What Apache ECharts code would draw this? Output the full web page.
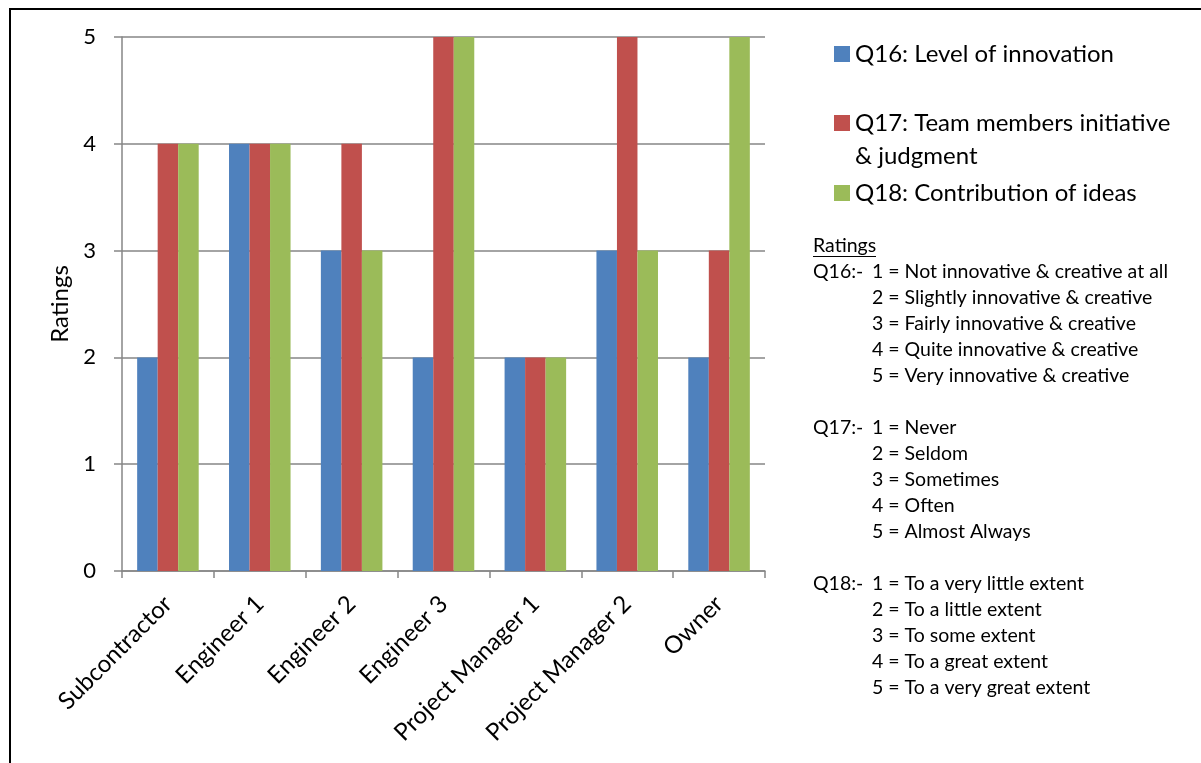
<!DOCTYPE html>
<html>
<head>
<meta charset="utf-8">
<script src="https://cdn.jsdelivr.net/npm/echarts@6/dist/echarts.min.js"></script>
<style>
html,body{margin:0;padding:0;background:#fff;overflow:hidden;}
#frame{position:absolute;left:9px;top:8px;width:1200px;height:770px;border-left:2px solid #000;border-top:2px solid #000;box-sizing:border-box;}
#chart{position:absolute;left:0;top:0;width:1201px;height:763px;}
</style>
</head>
<body>
<div id="chart"></div>
<div id="frame"></div>
<script>
const categories = ['Subcontractor','Engineer 1','Engineer 2','Engineer 3','Project Manager 1','Project Manager 2','Owner'];
const seriesNames = ['Q16: Level of innovation','Q17: Team members initiative & judgment','Q18: Contribution of ideas'];
const q16 = [2,4,3,2,2,3,2];
const q17 = [4,4,4,5,2,5,3];
const q18 = [4,4,3,5,2,3,5];
const yTicks = [0,1,2,3,4,5];
const ratingsLines = [
  ['Q16:-','1 = Not innovative & creative at all'],
  ['','2 = Slightly innovative & creative'],
  ['','3 = Fairly innovative & creative'],
  ['','4 = Quite innovative & creative'],
  ['','5 = Very innovative & creative'],
  null,
  ['Q17:-','1 = Never'],
  ['','2 = Seldom'],
  ['','3 = Sometimes'],
  ['','4 = Often'],
  ['','5 = Almost Always'],
  null,
  ['Q18:-','1 = To a very little extent'],
  ['','2 = To a little extent'],
  ['','3 = To some extent'],
  ['','4 = To a great extent'],
  ['','5 = To a very great extent']
];
const colors = ['#4F81BD','#C0504D','#9BBB59'];
const FONT = 'Lato';
const NOTE_FS = 19.5;
const LEG_FS = 24;

const chart = echarts.init(document.getElementById('chart'));

const graphics = [];
graphics.push({type:'text', x: 813, y: 246, style:{text:'Ratings', font:NOTE_FS+'px '+FONT, fill:'#000', verticalAlign:'middle'}});
graphics.push({type:'line', shape:{x1:813,y1:256.5,x2:876,y2:256.5}, style:{stroke:'#000', lineWidth:1}});
ratingsLines.forEach((l,i)=>{
  if(!l) return;
  const y = 272 + i*26;
  if(l[0]) graphics.push({type:'text', x:813, y:y, style:{text:l[0], font:NOTE_FS+'px '+FONT, fill:'#000', verticalAlign:'middle'}});
  graphics.push({type:'text', x:872, y:y, style:{text:l[1], font:NOTE_FS+'px '+FONT, fill:'#000', verticalAlign:'middle'}});
});
graphics.push({type:'text', x:855, y:156, style:{text:'& judgment', font:LEG_FS+'px '+FONT, fill:'#000', verticalAlign:'middle'}});

const legendBase = {orient:'vertical', padding:0, itemWidth:16, itemHeight:16, itemGap:0, icon:'rect', textStyle:{fontFamily:FONT, fontSize:LEG_FS, color:'#000'}, selectedMode:false};

chart.setOption({
  animation:false,
  color: colors,
  grid:{left:122, right:436, top:37, bottom:192, containLabel:false},
  legend:[
    Object.assign({}, legendBase, {data:[seriesNames[0]], left:834, top:42}),
    Object.assign({}, legendBase, {data:[seriesNames[1]], left:834, top:111, formatter: ()=> 'Q17: Team members initiative'}),
    Object.assign({}, legendBase, {data:[seriesNames[2]], left:834, top:181})
  ],
  xAxis:{
    type:'category', data:categories,
    axisLine:{lineStyle:{color:'#868686', width:1.5}},
    axisTick:{show:true, length:7, alignWithLabel:false, lineStyle:{color:'#868686', width:1.5}},
    axisLabel:{rotate:45, fontFamily:FONT, fontSize:24, color:'#000', margin:29, interval:0}
  },
  yAxis:{
    type:'value', min:yTicks[0], max:yTicks[yTicks.length-1], interval:1,
    name:'Ratings', nameLocation:'middle', nameGap:46, nameRotate:90,
    nameTextStyle:{fontFamily:FONT, fontSize:24, color:'#000'},
    axisLine:{show:true, lineStyle:{color:'#868686', width:1.5}},
    axisTick:{show:true, length:8, lineStyle:{color:'#868686', width:1.5}},
    axisLabel:{fontFamily:FONT, fontSize:22, color:'#000', margin:26},
    splitLine:{lineStyle:{color:'#868686', width:1.5}}
  },
  series:[
    {name:seriesNames[0], type:'bar', data:q16, barGap:'0%', barCategoryGap:'33%', itemStyle:{color:colors[0]}},
    {name:seriesNames[1], type:'bar', data:q17, barGap:'0%', barCategoryGap:'33%', itemStyle:{color:colors[1]}},
    {name:seriesNames[2], type:'bar', data:q18, barGap:'0%', barCategoryGap:'33%', itemStyle:{color:colors[2]}}
  ],
  graphic: graphics
});
</script>
</body>
</html>
